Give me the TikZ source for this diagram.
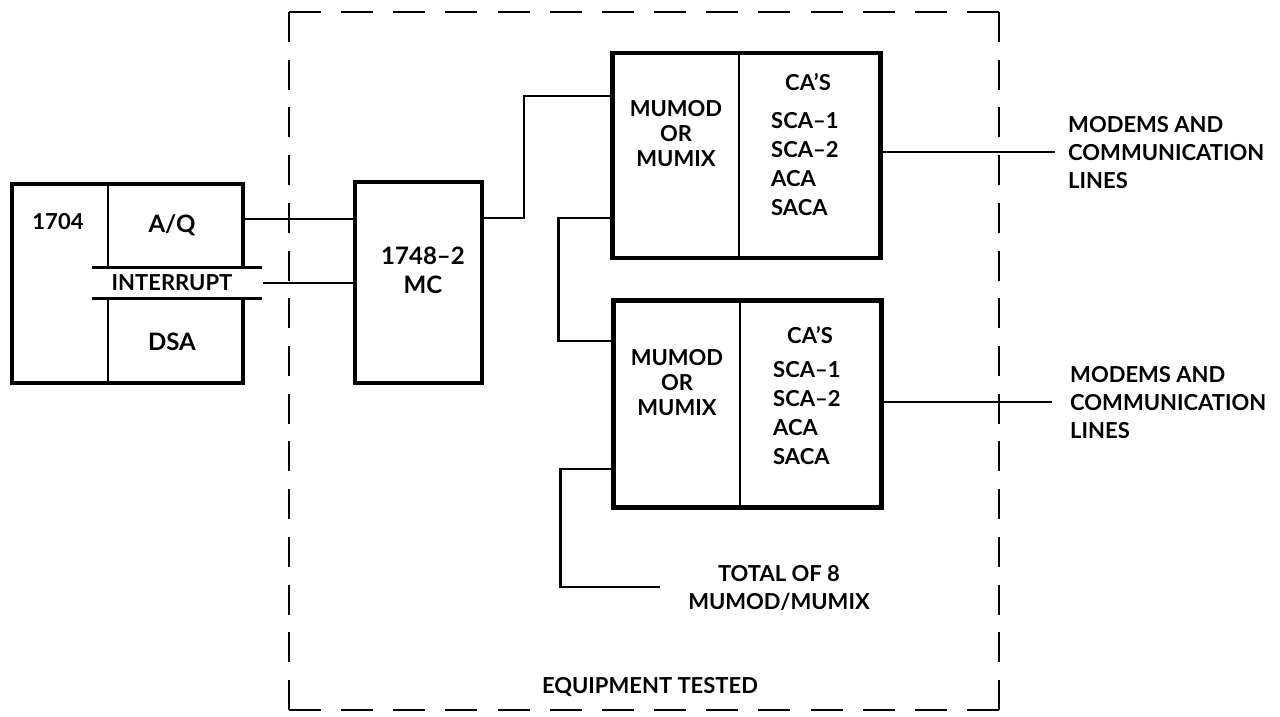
\documentclass[tikz,border=0pt]{standalone}
\usepackage{fontspec}
\setmainfont{Lato}
\begin{document}
\begin{tikzpicture}[x=1pt,y=-1pt,
  box/.style={draw, line width=4.5pt, inner sep=0pt, rectangle},
  frame/.style={line width=4.5pt, line join=miter},
  divider/.style={line width=2.8pt},
  band/.style={line width=3pt},
  wire/.style={line width=2.6pt},
  hdash/.style={line width=2.6pt, dash pattern=on 32pt off 20.15pt},
  vdash/.style={line width=2.6pt, dash pattern=on 30pt off 17.71pt},
  txt/.style={inner sep=0pt, font=\fontsize{22}{25}\selectfont\bfseries},
  big/.style={inner sep=0pt, font=\fontsize{24}{29}\selectfont\bfseries},
  lbl/.style={inner sep=0pt, align=left, font=\fontsize{22}{28}\selectfont\bfseries},
]
\useasboundingbox (0,0) rectangle (1280,717);

% dashed boundary of equipment tested
\draw[hdash] (289,12) -- (999,12);
\draw[hdash] (289,710) -- (999,710);
\draw[vdash] (289,12) -- (289,710);
\draw[vdash] (999,12) -- (999,710);
\node[txt] (equip) at (650,687) {EQUIPMENT TESTED};

% 1704 computer
\node[inner sep=0pt, minimum width=231pt, minimum height=199pt] (cpu) at (127.5,283.5) {};
\draw[frame] (243,267) -- (243,184) -- (12,184) -- (12,383) -- (243,383) -- (243,298);
\draw[divider] (108,184) -- (108,267);
\draw[divider] (108,298) -- (108,383);
\draw[band] (92,267) -- (262,267);
\draw[band] (92,298) -- (262,298);
\node[txt] (n1704) at (58,222) {1704};
\node[big] (aq) at (172,225) {A/Q};
\node[txt] (intr) at (172,283) {INTERRUPT};
\node[big] (dsa) at (172,342) {DSA};
\coordinate (aqout) at (243,219);
\coordinate (intout) at (263,283);

% 1748-2 MC
\node[box, minimum width=127pt, minimum height=201pt] (mc) at (418.5,282.5) {};
\node[big, align=center] (mctxt) at (423,270.5) {1748--2\\MC};
\draw[wire] (aqout) -- (aqout -| mc.west);
\draw[wire] (intout) -- (intout -| mc.west);
\coordinate (mcout) at (482,218);

% first MUMOD/MUMIX
\node[box, minimum width=268pt, minimum height=205pt] (mux1) at (746.5,155.5) {};
\draw[divider] (739,53) -- (739,258);
\node[txt, align=center] (mux1l) at (676,134) {MUMOD\\OR\\MUMIX};
\node[txt] (mux1h) at (808,82) {CA'S};
\node[lbl, anchor=west, font=\fontsize{22}{29}\selectfont\bfseries] (mux1r) at (771,164.5) {SCA--1\\SCA--2\\ACA\\SACA};

% second MUMOD/MUMIX
\node[box, minimum width=268pt, minimum height=207pt] (mux2) at (747.5,404) {};
\draw[divider] (740,300) -- (740,508);
\node[txt, align=center] (mux2l) at (677,382.5) {MUMOD\\OR\\MUMIX};
\node[txt] (mux2h) at (810,335) {CA'S};
\node[lbl, anchor=west, font=\fontsize{22}{29}\selectfont\bfseries] (mux2r) at (773,413.5) {SCA--1\\SCA--2\\ACA\\SACA};

% connectors
\draw[wire] (mcout) -- ++(42,0) |- (mux1.west |- 0,96);
\draw[wire] (mux1.west |- 0,218) -- ++(-52,0) |- (mux2.west |- 0,341);
\coordinate (totend) at (660,587);
\draw[wire] (mux2.west |- 0,469) -- ++(-51,0) |- (totend);
\node[txt, align=center, font=\fontsize{22}{28}\selectfont\bfseries] (total) at (779,588) {TOTAL OF 8\\MUMOD/MUMIX};

% outputs
\coordinate (m1end) at (1055,152);
\coordinate (m2end) at (1052,402);
\draw[wire] (mux1.east |- m1end) -- (m1end);
\draw[wire] (mux2.east |- m2end) -- (m2end);
\node[lbl, anchor=west] (modem1) at (1068,153) {MODEMS AND\\COMMUNICATION\\LINES};
\node[lbl, anchor=west] (modem2) at (1070,402.5) {MODEMS AND\\COMMUNICATION\\LINES};
\end{tikzpicture}
\end{document}
